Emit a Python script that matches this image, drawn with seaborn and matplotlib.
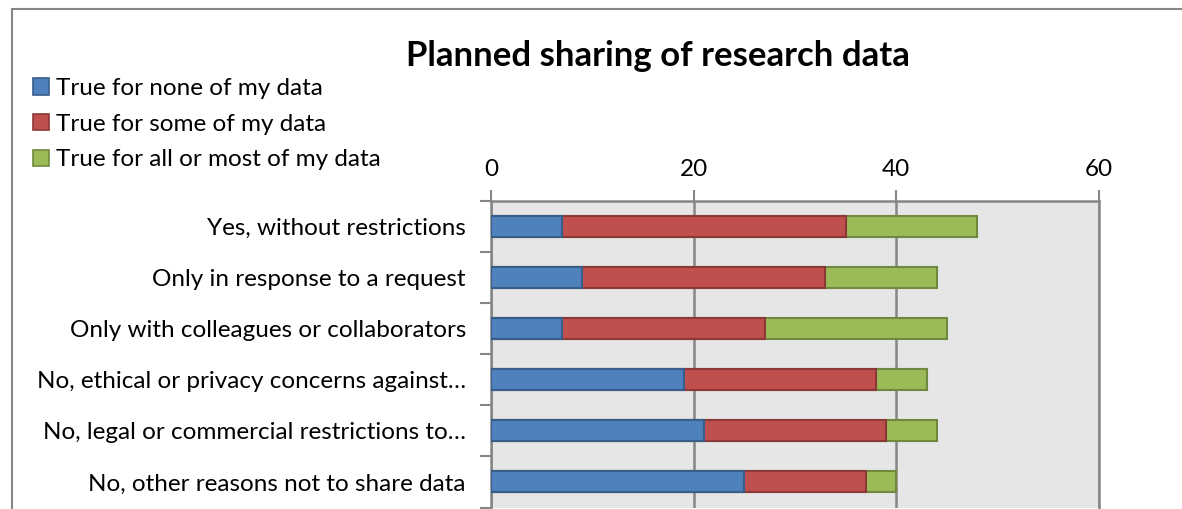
import numpy as np
import pandas as pd
import matplotlib
matplotlib.use("Agg")
import matplotlib.pyplot as plt
import seaborn as sns
from matplotlib.patches import Patch
from matplotlib.lines import Line2D

categories = [
    "Yes, without restrictions",
    "Only in response to a request",
    "Only with colleagues or collaborators",
    "No, ethical or privacy concerns against\u2026",
    "No, legal or commercial restrictions to\u2026",
    "No, other reasons not to share data",
]
none_vals = [7, 9, 7, 19, 21, 25]
some_vals = [28, 24, 20, 19, 18, 12]
most_vals = [13, 11, 18, 5, 5, 3]

series = ["True for none of my data", "True for some of my data", "True for all or most of my data"]
fills = ["#4F81BD", "#C0504D", "#9BBB59"]
edges = ["#385D8A", "#8C3836", "#71893F"]
x_ticks = [0, 20, 40, 60]

sns.set_style("white")
plt.rcParams["font.family"] = ["Lato", "DejaVu Sans"]
plt.rcParams["text.color"] = "black"

df = pd.DataFrame({"category": categories, "none": none_vals,
                   "some": some_vals, "most": most_vals})
df["c1"] = df["none"]
df["c2"] = df["none"] + df["some"]
df["c3"] = df["c2"] + df["most"]

fig = plt.figure(figsize=(11.82, 5.09), dpi=100)
ax = fig.add_axes([491 / 1182, 1.5 / 509, 608 / 1182, 306.5 / 509])
ax.set_facecolor("#E6E6E6")

# stacked bars: draw cumulative totals, largest first
for col, fc, ec in [("c3", fills[2], edges[2]), ("c2", fills[1], edges[1]), ("c1", fills[0], edges[0])]:
    sns.barplot(data=df, x=col, y="category", order=categories, orient="h",
                color=fc, edgecolor=ec, linewidth=1.5, width=0.41,
                saturation=1, ax=ax, zorder=3)

ax.set_xlim(0, 60)
ax.set_ylim(5.5, -0.5)
ax.set_xticks(x_ticks)
ax.xaxis.tick_top()
ax.tick_params(axis="x", top=True, bottom=False, length=8, width=1.5,
               color="#868686", labelsize=17.5, pad=7, labelcolor="black")
ax.set_yticks(range(len(categories)))
ax.set_yticklabels(categories)
ax.tick_params(axis="y", length=0, labelsize=17.5, pad=18, labelcolor="black")
# category boundary ticks
ax.set_yticks(np.arange(-0.5, len(categories), 1), minor=True)
ax.tick_params(axis="y", which="minor", left=True, length=8, width=1.5, color="#868686")
ax.set_xlabel("")
ax.set_ylabel("")
ax.grid(axis="x", color="#868686", linewidth=1.8, zorder=1)
ax.set_axisbelow(True)
ax.spines["bottom"].set_visible(False)
for s in ["top", "left", "right"]:
    ax.spines[s].set_color("#868686")
    ax.spines[s].set_linewidth(1.8)

fig.text(658 / 1182, 1 - 56 / 509, "Planned sharing of research data",
         ha="center", va="center", fontsize=25, fontweight="bold", color="black")

handles = [Patch(facecolor=f, edgecolor=e, linewidth=1.2, label=s)
           for s, f, e in zip(series, fills, edges)]
fig.legend(handles=handles, loc="upper left", bbox_to_anchor=(33 / 1182, 1 - 78 / 509),
           frameon=False, fontsize=17.5, handlelength=0.65, handleheight=0.65,
           handletextpad=0.3, labelspacing=0.6, borderaxespad=0, borderpad=0,
           labelcolor="black")

# outer chart border (top and left visible)
fig.add_artist(Line2D([12 / 1182, 1], [1 - 9 / 509, 1 - 9 / 509], color="#868686", linewidth=1.5))
fig.add_artist(Line2D([12 / 1182, 12 / 1182], [0, 1 - 9 / 509], color="#868686", linewidth=1.5))

fig.savefig("out.png", dpi=100)
